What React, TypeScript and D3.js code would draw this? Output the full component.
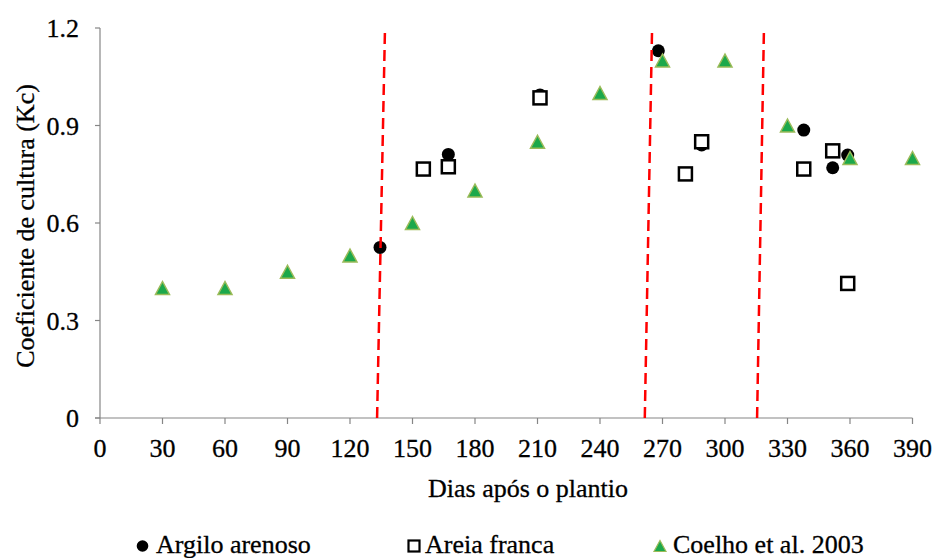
import React, { useEffect, useRef } from 'react';
import * as d3 from 'd3';

// Argilo arenoso (circles)
const argiloDias = [134.4, 167.2, 211.2, 268, 288.8, 337.8, 351.7, 358.9];
const argiloKc = [0.525, 0.811, 0.994, 1.13, 0.84, 0.886, 0.77, 0.809];

// Areia franca (open squares)
const areiaDias = [155.2, 167.2, 211.2, 281, 288.8, 337.8, 351.7, 358.9];
const areiaKc = [0.766, 0.773, 0.985, 0.751, 0.85, 0.766, 0.822, 0.414];

// Coelho et al. 2003 (triangles)
const coelhoDias = [30, 60, 90, 120, 150, 180, 210, 240, 270, 300, 330, 360, 390];
const coelhoKc = [0.4, 0.4, 0.45, 0.5, 0.6, 0.7, 0.85, 1.0, 1.1, 1.1, 0.9, 0.8, 0.8];

// red dashed phase dividers (slightly slanted, as in the original)
const dividerBottom = [133, 261.5, 315.4];
const dividerTop = [136.8, 265, 318.7];

const xTicks = [0, 30, 60, 90, 120, 150, 180, 210, 240, 270, 300, 330, 360, 390];
const yTicks = [0, 0.3, 0.6, 0.9, 1.2];
const yTickLabels = ['0', '0.3', '0.6', '0.9', '1.2'];

const FONT = 'Liberation Serif, Times New Roman, DejaVu Serif, serif';
const AXIS = '#868686';
const TRI_FILL = '#1ca84b';
const TRI_STROKE = '#9bbb59';

const triPath = (w: number, h: number) =>
  `M0,${-h / 2}L${w / 2},${h / 2}L${-w / 2},${h / 2}Z`;

export default function App() {
  const svgRef = useRef<SVGSVGElement>(null);

  useEffect(() => {
    if (!svgRef.current) return;
    const svg = d3.select(svgRef.current);
    svg.selectAll('*').remove();

    const x = d3.scaleLinear().domain([0, 390]).range([100, 912.5]);
    const y = d3.scaleLinear().domain([0, 1.2]).range([418, 28]);

    const g = svg.append('g');

    // all text is the same serif at 26px, slightly darkened like the original
    const label = (sel: d3.Selection<SVGGElement, unknown, null, undefined>) =>
      sel.append('text')
        .attr('font-family', FONT)
        .attr('font-size', 26)
        .attr('fill', '#000')
        .attr('stroke', '#000')
        .attr('stroke-width', 0.3);

    // axes
    g.append('line')
      .attr('x1', x(0)).attr('x2', x(0))
      .attr('y1', y(1.2)).attr('y2', y(0))
      .attr('stroke', AXIS).attr('stroke-width', 1.2);
    g.append('line')
      .attr('x1', x(0) - 5).attr('x2', x(390))
      .attr('y1', y(0)).attr('y2', y(0))
      .attr('stroke', AXIS).attr('stroke-width', 1.2);

    yTicks.forEach((t, i) => {
      g.append('line')
        .attr('x1', x(0) - 5).attr('x2', x(0))
        .attr('y1', y(t)).attr('y2', y(t))
        .attr('stroke', AXIS).attr('stroke-width', 1.2);
      label(g)
        .attr('x', 79).attr('y', y(t)).attr('dy', '0.35em')
        .attr('text-anchor', 'end')
        .text(yTickLabels[i]);
    });

    xTicks.forEach((t) => {
      g.append('line')
        .attr('x1', x(t)).attr('x2', x(t))
        .attr('y1', y(0)).attr('y2', y(0) + 6)
        .attr('stroke', AXIS).attr('stroke-width', 1.2);
      label(g)
        .attr('x', x(t)).attr('y', 457)
        .attr('text-anchor', 'middle')
        .text(String(t));
    });

    // axis titles
    label(g)
      .attr('x', 528).attr('y', 497)
      .attr('text-anchor', 'middle')
      .text('Dias após o plantio');
    label(g)
      .attr('transform', `translate(34,${(y(0) + y(1.2)) / 2 + 3}) rotate(-90)`)
      .attr('text-anchor', 'middle')
      .text('Coeficiente de cultura (Kc)');

    // Argilo arenoso
    g.append('g').selectAll('circle')
      .data(argiloDias.map((d, i) => [d, argiloKc[i]]))
      .enter().append('circle')
      .attr('cx', (d) => x(d[0])).attr('cy', (d) => y(d[1]))
      .attr('r', 6.5).attr('fill', '#000');

    // Areia franca
    g.append('g').selectAll('rect')
      .data(areiaDias.map((d, i) => [d, areiaKc[i]]))
      .enter().append('rect')
      .attr('x', (d) => x(d[0]) - 6.5).attr('y', (d) => y(d[1]) - 6.5)
      .attr('width', 13).attr('height', 13)
      .attr('fill', '#fff').attr('stroke', '#000').attr('stroke-width', 2.5);

    // Coelho et al. 2003
    g.append('g').selectAll('path')
      .data(coelhoDias.map((d, i) => [d, coelhoKc[i]]))
      .enter().append('path')
      .attr('d', triPath(14, 13))
      .attr('transform', (d) => `translate(${x(d[0])},${y(d[1])})`)
      .attr('fill', TRI_FILL).attr('stroke', TRI_STROKE).attr('stroke-width', 1.5);

    // red dashed dividers
    dividerBottom.forEach((b, i) => {
      g.append('line')
        .attr('x1', x(b)).attr('y1', y(0))
        .attr('x2', x(dividerTop[i])).attr('y2', y(1.2))
        .attr('stroke', '#ff0000').attr('stroke-width', 2.5)
        .attr('stroke-dasharray', '11,6');
    });

    // legend
    const leg = g.append('g');
    leg.append('circle').attr('cx', 142.5).attr('cy', 546).attr('r', 5.8).attr('fill', '#000');
    label(leg).attr('x', 156).attr('y', 553).text('Argilo arenoso');
    leg.append('rect').attr('x', 408.5).attr('y', 540.5).attr('width', 11).attr('height', 11)
      .attr('fill', '#fff').attr('stroke', '#000').attr('stroke-width', 2.2);
    label(leg).attr('x', 425).attr('y', 553).text('Areia franca');
    leg.append('path').attr('d', triPath(12, 11)).attr('transform', 'translate(660,546)')
      .attr('fill', TRI_FILL).attr('stroke', TRI_STROKE).attr('stroke-width', 1.2);
    label(leg).attr('x', 673).attr('y', 553).text('Coelho et al. 2003');
  }, []);

  return (
    <svg
      ref={svgRef}
      width={934}
      height={558}
      style={{ position: 'absolute', left: 0, top: 0, background: '#fff', display: 'block' }}
    />
  );
}
